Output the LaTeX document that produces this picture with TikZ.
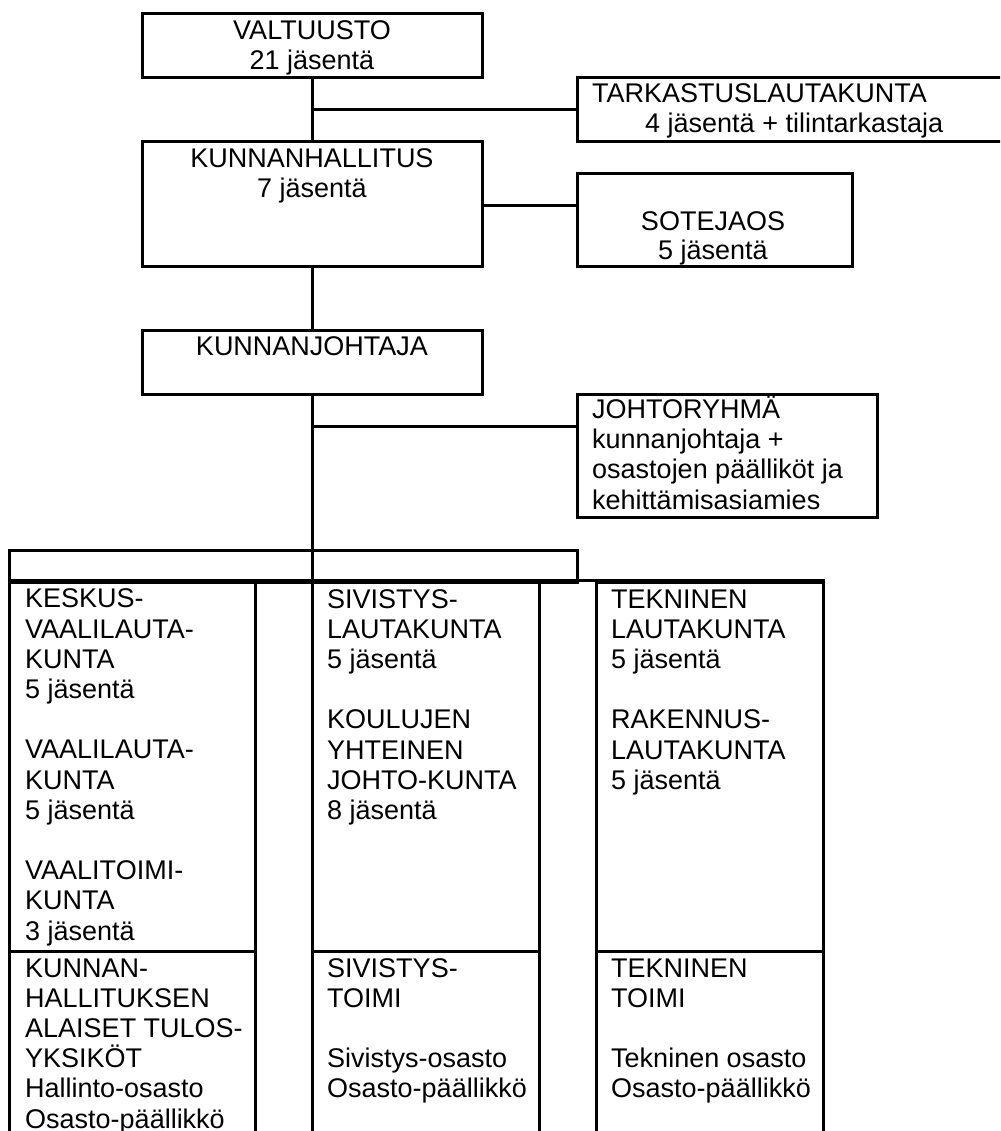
\documentclass[tikz,border=0pt]{standalone}
\usepackage{fontspec}
\setmainfont{Liberation Sans}
\begin{document}
\begin{tikzpicture}[x=1pt,y=-1pt,
  box/.style={draw, line width=3pt, inner sep=0pt, rectangle},
  lbl/.style={inner sep=0pt, font=\fontsize{27}{30.2}\selectfont, align=left, anchor=base west},
  clbl/.style={inner sep=0pt, font=\fontsize{27}{29.5}\selectfont, align=center, anchor=base},
  ln/.style={line width=3pt}]
\useasboundingbox (0,0) rectangle (1000,1131);
\clip (0,0) rectangle (1000,1131);
% upper boxes
\node[box, minimum width=340pt, minimum height=64pt] (valt) at (312,46) {};
\node[box, minimum width=433pt, minimum height=64pt] (tark) at (793.5,110) {};
\node[box, minimum width=340pt, minimum height=125pt] (kh) at (312,204.5) {};
\node[box, minimum width=275pt, minimum height=93pt] (sote) at (714.5,220.5) {};
\node[box, minimum width=340pt, minimum height=64pt] (kj) at (312,362) {};
\node[box, minimum width=300pt, minimum height=123pt] (jr) at (727,455.5) {};
% table
\node[box, minimum width=568pt, minimum height=32pt] (bar) at (293,566) {};
\node[box, minimum width=246pt, minimum height=369pt] (c1u) at (132,766.5) {};
\node[box, minimum width=246pt, minimum height=200pt] (c1l) at (132,1051) {};
\node[box, minimum width=227pt, minimum height=369pt] (c2u) at (425.5,766.5) {};
\node[box, minimum width=227pt, minimum height=200pt] (c2l) at (425.5,1051) {};
\node[box, minimum width=227pt, minimum height=369pt] (c3u) at (709.5,766.5) {};
\node[box, minimum width=227pt, minimum height=200pt] (c3l) at (709.5,1051) {};
\coordinate (bot) at (312,1145);
\coordinate (j1) at (312,110);
\coordinate (j2) at (482,206);
\coordinate (j3) at (312,426);
% connectors
\draw[ln] (valt) -- (kh);
\draw[ln] (j1) -- (j1 -| tark.west);
\draw[ln] (j2) -- (j2 -| sote.west);
\draw[ln] (kh) -- (kj);
\draw[ln] (kj.south) -- (bot);
\draw[ln] (j3) -- (j3 -| jr.west);
\draw[ln] (c1u.north west) -- (c3u.north east);
% texts (base anchor = baseline of the last line)
\node[clbl] (tvalt) at (312,69.5) {VALTUUSTO\\21 jäsentä};
\node[clbl] (tkh) at (312,197.5) {KUNNANHALLITUS\\7 jäsentä};
\node[lbl] (ttark1) at (592,103) {TARKASTUSLAUTAKUNTA};
\node[lbl] (ttark2) at (645,132.5) {4 jäsentä + tilintarkastaja};
\node[clbl] (tsote) at (713,260) {SOTEJAOS\\5 jäsentä};
\node[clbl] (tkj) at (312,355) {KUNNANJOHTAJA};
\node[lbl] (tjr) at (592,509) {JOHTORYHMÄ\\kunnanjohtaja +\\osastojen päälliköt ja\\kehittämisasiamies};
\node[lbl] (t1u) at (25,940) {KESKUS-\\VAALILAUTA-\\KUNTA\\5 jäsentä\\[30.2pt]VAALILAUTA-\\KUNTA\\5 jäsentä\\[30.2pt]VAALITOIMI-\\KUNTA\\3 jäsentä};
\node[lbl] (t1l) at (25,1128) {KUNNAN-\\HALLITUKSEN\\ALAISET TULOS-\\YKSIKÖT\\Hallinto-osasto\\Osasto-päällikkö};
\node[lbl] (t2u) at (327,819.4) {SIVISTYS-\\LAUTAKUNTA\\5 jäsentä\\[30.2pt]KOULUJEN\\YHTEINEN\\JOHTO-KUNTA\\8 jäsentä};
\node[lbl] (t2l) at (327,1097.8) {SIVISTYS-\\TOIMI\\[30.2pt]Sivistys-osasto\\Osasto-päällikkö};
\node[lbl] (t3u) at (611,789.2) {TEKNINEN\\LAUTAKUNTA\\5 jäsentä\\[30.2pt]RAKENNUS-\\LAUTAKUNTA\\5 jäsentä};
\node[lbl] (t3l) at (611,1097.8) {TEKNINEN\\TOIMI\\[30.2pt]Tekninen osasto\\Osasto-päällikkö};
\end{tikzpicture}
\end{document}
